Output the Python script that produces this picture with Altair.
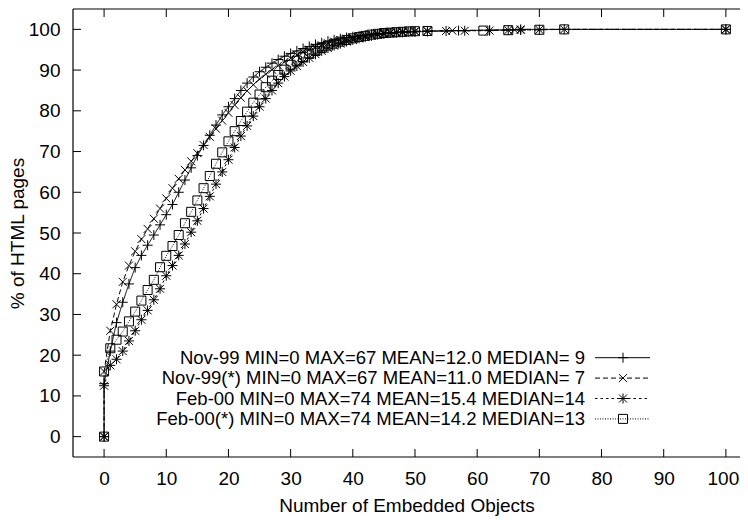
import altair as alt
import pandas as pd

# ---------------- data ----------------
SERIES = [
    "Nov-99 MIN=0 MAX=67 MEAN=12.0 MEDIAN= 9",
    "Nov-99(*) MIN=0 MAX=67 MEAN=11.0 MEDIAN= 7",
    "Feb-00 MIN=0 MAX=74 MEAN=15.4 MEDIAN=14",
    "Feb-00(*) MIN=0 MAX=74 MEAN=14.2 MEDIAN=13",
]

nov99_x = [0] + list(range(0, 49)) + [50, 52, 57, 62, 67, 100]
nov99_y = [0, 13, 21, 28, 33, 37.5, 41.5, 44.5, 47, 49.5, 52, 54.5, 57, 60, 63, 66, 69,
           71.5, 74, 76.5, 79, 81, 83, 85, 86.8, 88.3, 89.6, 90.7, 91.7, 92.6, 93.4,
           94.1, 94.7, 95.3, 95.8, 96.3, 96.7, 97.1, 97.4, 97.7, 98.0, 98.2, 98.4,
           98.6, 98.8, 98.9, 99.0, 99.1, 99.2, 99.3, 99.4, 99.5, 99.7, 99.8, 100, 100]

nov99s_x = [0] + list(range(0, 49)) + [50, 52, 56, 66, 67, 100]
nov99s_y = [0, 16, 26, 32.5, 38, 42, 45.5, 48.5, 51, 53.5, 56, 58.5, 61, 63.3, 65.5,
            67.6, 69.6, 71.6, 73.6, 75.6, 77.6, 79.5, 81.4, 83.2, 84.9, 86.4, 87.8,
            89, 90.1, 91.1, 92, 92.9, 93.7, 94.4, 95, 95.6, 96.1, 96.6, 97, 97.4,
            97.7, 98, 98.3, 98.5, 98.7, 98.9, 99.1, 99.2, 99.3, 99.4, 99.5, 99.6,
            99.7, 99.9, 100, 100]

feb00_x = [0] + list(range(0, 51)) + [52, 55, 58, 62, 65, 67, 70, 74, 100]
feb00_y = [0, 12.5, 17.5, 19, 21, 23.5, 26, 28.7, 31, 33.6, 36.3, 39.5, 42, 44.5,
           47.3, 50.2, 53, 56, 59, 62, 65, 68, 71, 73.8, 76.3, 78.7, 81, 83, 85,
           86.8, 88.4, 89.8, 91, 92, 93, 93.9, 94.7, 95.4, 96, 96.5, 97, 97.4,
           97.8, 98.1, 98.4, 98.7, 98.9, 99.1, 99.2, 99.3, 99.4, 99.5, 99.55,
           99.6, 99.65, 99.7, 99.8, 99.85, 99.9, 100, 100]

feb00s_x = [0] + list(range(0, 51)) + [52, 61, 65, 70, 74, 100]
feb00s_y = [0, 16, 21.7, 23.8, 25.8, 28.3, 30.7, 33.4, 36, 38.5, 41.6, 44.4, 46.8,
            49.5, 52.4, 55.2, 58, 61, 64, 67, 69.8, 72.5, 75, 77.5, 79.8, 82, 84,
            85.8, 87.4, 88.8, 90.1, 91.3, 92.3, 93.2, 94, 94.7, 95.4, 96, 96.5, 97,
            97.4, 97.8, 98.1, 98.4, 98.7, 98.9, 99.1, 99.2, 99.3, 99.4, 99.5, 99.55,
            99.6, 99.7, 99.8, 99.9, 100, 100]

X_TICKS = list(range(0, 101, 10))
Y_TICKS = list(range(0, 101, 10))

# ---------------- build tables ----------------
rows = []
for name, xs, ys in zip(SERIES, [nov99_x, nov99s_x, feb00_x, feb00s_x],
                        [nov99_y, nov99s_y, feb00_y, feb00s_y]):
    for i, (xv, yv) in enumerate(zip(xs, ys)):
        rows.append({"series": name, "idx": i, "x": xv, "y": yv})
df = pd.DataFrame(rows)

PXU = 6.218            # pixels per x unit in the reference
W, H = 667, 448
XMIN, YMIN, YMAX = -5, -5, 105
XMAX = XMIN + W / PXU
FONT = "Liberation Sans"

def px_to_x(p):
    return XMIN + p / PXU

def px_to_y(p):
    return YMAX - p * (YMAX - YMIN) / H

# legend placement (plot-area pixels converted into data units)
leg_rows = []
for i, name in enumerate(SERIES):
    leg_rows.append({"series": name,
                     "x": px_to_x(512), "xl": px_to_x(522), "xl2": px_to_x(577),
                     "xm": px_to_x(550), "y": px_to_y(348.7 + 20.4 * i)})
leg = pd.DataFrame(leg_rows)

xt = pd.DataFrame({"x": X_TICKS})
yt = pd.DataFrame({"y": Y_TICKS})
frame = pd.DataFrame({"k": [0]})

PLUS = "M-1,0L1,0M0,-1L0,1"
XMK = "M-0.8,-0.8L0.8,0.8M-0.8,0.8L0.8,-0.8"
STAR = PLUS + XMK
BOX = "M-0.9,-0.9L0.9,-0.9L0.9,0.9L-0.9,0.9Z"

dash_scale = alt.Scale(domain=SERIES, range=[[1, 0], [5, 3], [2.5, 3], [1, 1.5]])
shape_scale = alt.Scale(domain=SERIES, range=[PLUS, XMK, STAR, BOX])

x_scale = alt.Scale(domain=[XMIN, XMAX], nice=False, zero=False)
y_scale = alt.Scale(domain=[YMIN, YMAX], nice=False, zero=False)

x_axis = alt.Axis(values=X_TICKS, title="Number of Embedded Objects", ticks=False,
                  domain=False, grid=False, labelPadding=12, titlePadding=8,
                  labelOffset={"condition": {"test": "datum.value == 100", "value": -3},
                               "value": 0},
                  labelFontSize=19, titleFontSize=19, labelFont=FONT, titleFont=FONT,
                  labelColor="black", titleColor="black", titleFontWeight="normal")
y_axis = alt.Axis(values=Y_TICKS, title="% of HTML pages", ticks=False,
                  domain=False, grid=False, labelPadding=13, titlePadding=1,
                  labelFontSize=19, titleFontSize=19, labelFont=FONT, titleFont=FONT,
                  labelColor="black", titleColor="black", titleFontWeight="normal")

X = alt.X("x:Q", scale=x_scale, axis=x_axis)
Y = alt.Y("y:Q", scale=y_scale, axis=y_axis)

lines = alt.Chart(df).mark_line(color="black", strokeWidth=1, clip=True).encode(
    x=X, y=Y, detail="series:N",
    strokeDash=alt.StrokeDash("series:N", scale=dash_scale, legend=None),
    order="idx:Q")

points = alt.Chart(df).mark_point(filled=False, color="black", size=100,
                                  strokeWidth=1, opacity=1).encode(
    x=X, y=Y, shape=alt.Shape("series:N", scale=shape_scale, legend=None))

leg_text = alt.Chart(leg).mark_text(align="right", baseline="middle", fontSize=18.5,
                                    font=FONT, color="black").encode(
    x=X, y=Y, text="series:N")
leg_line = alt.Chart(leg).mark_rule(color="black", strokeWidth=1).encode(
    x=alt.X("xl:Q", scale=x_scale, axis=x_axis), x2="xl2:Q", y=Y,
    strokeDash=alt.StrokeDash("series:N", scale=dash_scale, legend=None))
leg_pts = alt.Chart(leg).mark_point(filled=False, color="black", size=100,
                                    strokeWidth=1, opacity=1).encode(
    x=alt.X("xm:Q", scale=x_scale, axis=x_axis), y=Y,
    shape=alt.Shape("series:N", scale=shape_scale, legend=None))

TL = 8
xt_bot = alt.Chart(xt).mark_rule(color="black", strokeWidth=1).encode(
    x=X, y=alt.value(H), y2=alt.value(H - TL))
xt_top = alt.Chart(xt).mark_rule(color="black", strokeWidth=1).encode(
    x=X, y=alt.value(0), y2=alt.value(TL))
yt_left = alt.Chart(yt).mark_rule(color="black", strokeWidth=1).encode(
    y=Y, x=alt.value(0), x2=alt.value(TL))

# frame: left, top and bottom edges (right edge lies beyond the picture)
f_left = alt.Chart(frame).mark_rule(color="black", strokeWidth=1.2).encode(
    x=alt.value(0), y=alt.value(0), y2=alt.value(H))
f_top = alt.Chart(frame).mark_rule(color="black", strokeWidth=1.2).encode(
    y=alt.value(0), x=alt.value(0), x2=alt.value(W))
f_bot = alt.Chart(frame).mark_rule(color="black", strokeWidth=1.2).encode(
    y=alt.value(H), x=alt.value(0), x2=alt.value(W))

chart = alt.layer(lines, points, leg_line, leg_pts, leg_text,
                  xt_bot, xt_top, yt_left, f_left, f_top, f_bot).properties(
    width=W, height=H,
    padding={"left": 65, "top": 1, "right": 0, "bottom": 62},
    autosize=alt.AutoSizeParams(type="none"),
    background="white",
).configure_view(stroke=None)

chart.save("out.html", embed_options={"renderer": "svg", "actions": False})
